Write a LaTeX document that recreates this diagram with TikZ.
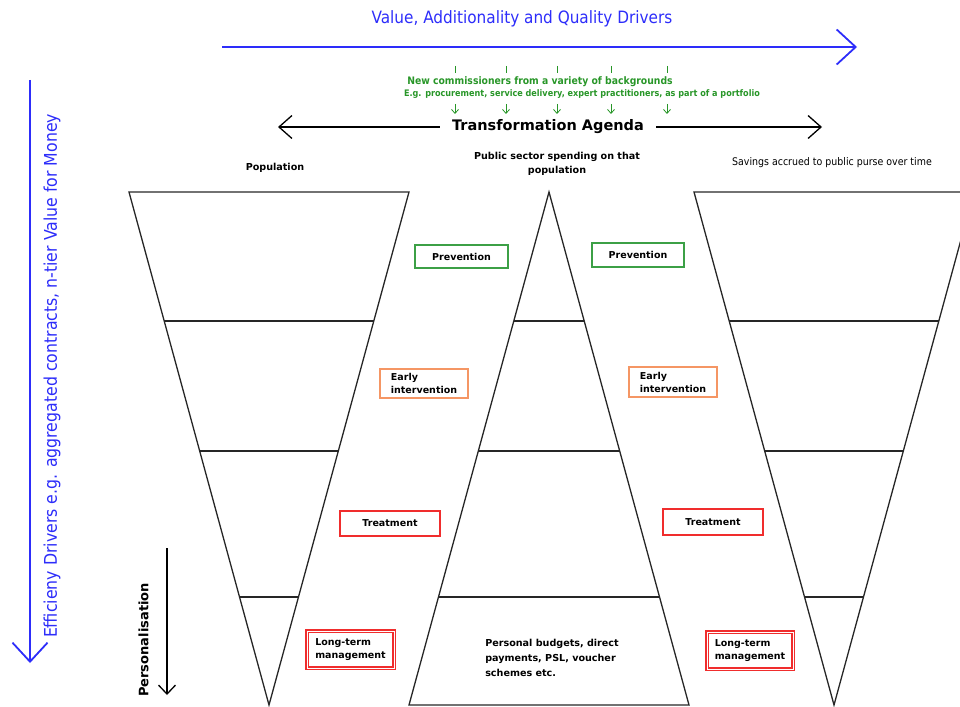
\documentclass[tikz,border=0pt]{standalone}
\usepackage{fontspec}
\setmainfont{DejaVu Sans}
\newfontfamily\narrowfont{DejaVu Sans Condensed}
\usetikzlibrary{arrows.meta}
\definecolor{driverblue}{RGB}{45,45,250}
\definecolor{agendagreen}{RGB}{40,150,40}
\definecolor{boxgreen}{RGB}{60,160,70}
\definecolor{boxorange}{RGB}{245,150,100}
\definecolor{boxred}{RGB}{240,45,45}
\tikzstyle{line}=[line width=1.3pt, black!85]
\tikzstyle{arrow}=[line width=1.3pt, black, -{Straight Barb[length=13pt,width=23pt]}]
\tikzstyle{driver}=[line width=1.8pt, driverblue, -{Straight Barb[length=19pt,width=35pt]}]
\tikzstyle{persarrow}=[line width=1.3pt, black, -{Straight Barb[length=9pt,width=17pt]}]
\tikzstyle{greenline}=[line width=0.8pt, agendagreen]
\tikzstyle{greenarrow}=[greenline, -{Straight Barb[length=4pt,width=7pt]}]
\tikzstyle{drivertext}=[driverblue, font=\narrowfont\fontsize{17}{19}\selectfont, inner sep=0pt]
\tikzstyle{greentext}=[agendagreen, font=\narrowfont\bfseries\fontsize{9}{10}\selectfont, inner sep=0pt]
\tikzstyle{agenda}=[font=\bfseries\fontsize{14.5}{16}\selectfont, inner ysep=0pt, inner xsep=12pt]
\tikzstyle{heading}=[font=\bfseries\fontsize{9.6}{14}\selectfont, inner sep=0pt]
\tikzstyle{smallheading}=[font=\narrowfont\fontsize{10.5}{12}\selectfont, inner sep=0pt]
\tikzstyle{stagebox}=[draw, line width=1.4pt, font=\bfseries\fontsize{9.5}{13}\selectfont, align=left, inner sep=2pt]
\tikzstyle{longbox}=[stagebox, draw=boxred, line width=1.4pt, double=white, double distance=0.7pt]
\begin{document}
\begin{tikzpicture}[x=1pt,y=-1pt]
  \useasboundingbox (0,0) rectangle (960,706);
  \clip (0,0) rectangle (960,706);
  % drivers
  \node[drivertext] (VA) at (522,19) {Value, Additionality and Quality Drivers};
  \coordinate (VA-start) at (222,47);
  \coordinate (VA-end) at (857,47);
  \draw[driver] (VA-start) -- (VA-end);
  \node[drivertext, rotate=90, font=\narrowfont\fontsize{17.5}{20}\selectfont] (ED) at (52,376) {Efficieny Drivers e.g. aggregated contracts, n-tier Value for Money};
  \coordinate (ED-start) at (30,80);
  \coordinate (ED-end) at (30,663);
  \draw[driver] (ED-start) -- (ED-end);
  % commissioners
  \node[greentext, font=\narrowfont\bfseries\fontsize{10.3}{11}\selectfont] (NC) at (540,81.5) {New commissioners from a variety of backgrounds};
  \node[greentext] (EG) at (582,94.5) {E.g. procurement, service delivery, expert practitioners, as part of a portfolio};
  \foreach \x [count=\k] in {455,506,557,611,667} {
    \coordinate (Tick\k) at (\x,66);
    \coordinate (Down\k) at (\x,104);
    \draw[greenline] (Tick\k) -- ++(0,7);
    \draw[greenarrow] (Down\k) -- ++(0,10);
  }
  % agenda
  \node[agenda] (TA) at (548,127) {Transformation Agenda};
  \coordinate (TA-left) at (278,127);
  \coordinate (TA-right) at (822,127);
  \draw[arrow] (TA.west) -- (TA-left);
  \draw[arrow] (TA.east) -- (TA-right);
  % headings
  \node[heading] (Pop) at (275,168) {Population};
  \node[heading, align=center] (Spend) at (557,164) {Public sector spending on that\\population};
  \node[smallheading] (Sav) at (832,163) {Savings accrued to public purse over time};
  % funnels
  \foreach \c in {269,834} {
    \draw[line] (\c-140,192) -- (\c+140,192) -- (\c,705) -- cycle;
    \foreach \y in {321,451,597} {
      \pgfmathsetmacro\w{140/513*(705-\y)}
      \draw[line] (\c-\w,\y) -- (\c+\w,\y);
    }
  }
  \draw[line] (549,192) -- (689,705) -- (409,705) -- cycle;
  \foreach \y in {321,451,597} {
    \pgfmathsetmacro\w{140/513*(\y-192)}
    \draw[line] (549-\w,\y) -- (549+\w,\y);
  }
  % stages
  \node[stagebox, draw=boxgreen, minimum width=93pt, minimum height=23pt] (PrevA) at (461.5,256.5) {Prevention};
  \node[stagebox, draw=boxgreen, minimum width=92pt, minimum height=24pt] (PrevB) at (638,255) {Prevention};
  \node[stagebox, draw=boxorange, minimum width=88pt, minimum height=29pt] (EarlyA) at (424,383.5) {Early\\intervention};
  \node[stagebox, draw=boxorange, minimum width=88pt, minimum height=30pt] (EarlyB) at (673,382) {Early\\intervention};
  \node[stagebox, draw=boxred, minimum width=100pt, minimum height=25pt] (TreatA) at (390,523.5) {Treatment};
  \node[stagebox, draw=boxred, minimum width=100pt, minimum height=26pt] (TreatB) at (713,522) {Treatment};
  \node[longbox, minimum width=87pt, minimum height=37pt] (LongA) at (350.5,649.5) {Long-term\\management};
  \node[longbox, minimum width=86pt, minimum height=37pt] (LongB) at (750,650.5) {Long-term\\management};
  % personalisation
  \coordinate (Pers-top) at (167,548);
  \coordinate (Pers-bot) at (167,695);
  \draw[persarrow] (Pers-top) -- (Pers-bot);
  \node[heading, rotate=90, font=\bfseries\fontsize{13}{15}\selectfont] (Pers) at (143.5,640) {Personalisation};
  \node[heading, align=left, font=\bfseries\fontsize{9.6}{15}\selectfont] (PB) at (552,658) {Personal budgets, direct\\payments, PSL, voucher\\schemes etc.};
\end{tikzpicture}
\end{document}
